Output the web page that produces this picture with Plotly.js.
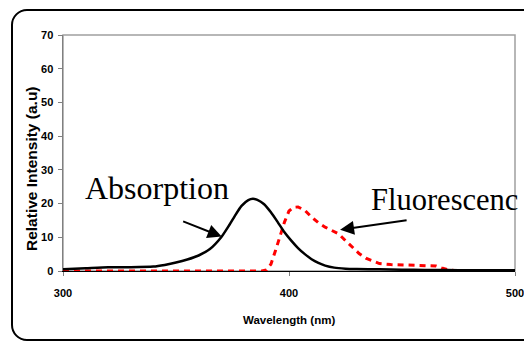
<!DOCTYPE html>
<html>
<head>
<meta charset="utf-8">
<script src="https://cdn.plot.ly/plotly-3.0.1.min.js"></script>
<style>
html,body{margin:0;padding:0;overflow:hidden;background:#fff;}
#wrap{position:relative;width:524px;height:341px;}
#chart{position:absolute;left:0;top:0;width:524px;height:341px;}
#frame{position:absolute;left:11px;top:9px;width:600px;height:328px;border:2px solid #000;border-radius:16px;pointer-events:none;}
</style>
</head>
<body>
<div id="wrap"><div id="chart"></div><div id="frame"></div></div>
<script>
// Absorption (black solid)
var absWl  = [300,310,320,330,340,345,350,355,360,365,370,373,376,379,382,384,386,389,392,395,398,401,404,407,410,413,416,420,425,430,440,450,460,470,480,490,500];
var absVal = [0.5,0.8,1.1,1.1,1.3,1.8,2.5,3.4,4.6,6.5,10,13,16.3,19.3,21,21.4,21.1,19.8,17.4,14.5,11.5,9,6.8,5,3.5,2.4,1.6,1.0,0.7,0.6,0.5,0.4,0.3,0.3,0.2,0.2,0.2];
// Fluorescence (red dashed)
var flWl  = [300,320,340,360,380,388,390,392,394,396,398,400,402,404,407,410,413,416,419,422,425,428,431,434,437,440,445,450,455,460,465,468,471,474,480,490,500];
var flVal = [0,0,0,0,0,0,0.3,2,6,10.5,14.5,17.8,18.9,19,18,16,14.3,13,12,11,9,7,5.2,3.8,2.9,2.2,1.9,1.8,1.8,1.8,1.5,0.8,0.3,0.1,0,0,0];
var xTicks = [300,400,500];
var yTicks = [0,10,20,30,40,50,60,70];
var xTitle = "Wavelength (nm)";
var yTitle = "Relative Intensity (a.u)";
var absLabel = "Absorption";
var flLabel = "Fluorescenc";

var sans = "Liberation Sans, Arial, sans-serif";
var serif = "Liberation Serif, Times New Roman, serif";

var traces = [
  {x: flWl, y: flVal, type: "scatter", mode: "lines", line: {color: "#FF0000", width: 3, dash: "6px,5px"}, hoverinfo: "skip"},
  {x: absWl, y: absVal, type: "scatter", mode: "lines", line: {color: "#000000", width: 2.5, shape: "spline", smoothing: 0.6}, hoverinfo: "skip"}
];

var layout = {
  width: 524, height: 341,
  margin: {l: 63, r: 9, t: 35, b: 70, pad: 0},
  paper_bgcolor: "rgba(0,0,0,0)", plot_bgcolor: "#fff",
  showlegend: false,
  xaxis: {range: [300, 500], tickvals: xTicks, ticktext: xTicks.map(String), ticks: "outside", ticklen: 4, tickcolor: "#808080",
          showline: true, linecolor: "#000", linewidth: 1, showgrid: false, zeroline: false, ticklabelstandoff: 8,
          ticklabeloverflow: "allow",
          tickfont: {family: sans, size: 11, color: "#000", weight: "bold"}},
  yaxis: {range: [0, 70], tickvals: yTicks, ticktext: yTicks.map(String), ticks: "outside", ticklen: 4, tickcolor: "#808080",
          showline: true, linecolor: "#808080", linewidth: 1.5, showgrid: false, zeroline: false, ticklabelstandoff: 2,
          tickfont: {family: sans, size: 11, color: "#000", weight: "bold"}},
  shapes: [
    {type: "rect", xref: "paper", yref: "paper", x0: 0, x1: 1, y0: 0, y1: 1, line: {color: "#A0A0A0", width: 1.5}, layer: "below"}
  ],
  annotations: [
    {xref: "paper", yref: "paper", x: (31-63)/452, y: (271-169)/236, text: yTitle, textangle: -90, showarrow: false,
     xanchor: "center", yanchor: "middle", font: {family: sans, size: 15.5, color: "#000", weight: "bold"}},
    {xref: "paper", yref: "paper", x: (289-63)/452, y: (271-320)/236, text: xTitle, showarrow: false,
     xanchor: "center", yanchor: "middle", font: {family: sans, size: 11.5, color: "#000", weight: "bold"}},
    {xref: "x", yref: "y", x: 341.5, y: 24.6, text: absLabel, showarrow: false, xanchor: "center", yanchor: "middle",
     font: {family: serif, size: 32, color: "#000"}},
    {xref: "x", yref: "y", x: 435.4, y: 21.1, text: flLabel, showarrow: false, xanchor: "left", yanchor: "middle",
     font: {family: serif, size: 30.5, color: "#000"}},
    {xref: "x", yref: "y", x: 370.2, y: 10.2, axref: "x", ayref: "y", ax: 352.5, ay: 14.9, text: "", showarrow: true,
     arrowhead: 2, arrowsize: 1.4, arrowwidth: 2, arrowcolor: "#000", standoff: 0, startstandoff: 0},
    {xref: "x", yref: "y", x: 422.6, y: 12.2, axref: "x", ayref: "y", ax: 452.7, ay: 15.1, text: "", showarrow: true,
     arrowhead: 2, arrowsize: 1.4, arrowwidth: 2, arrowcolor: "#000", standoff: 0, startstandoff: 0}
  ]
};

Plotly.newPlot("chart", traces, layout, {staticPlot: true, displayModeBar: false});
</script>
</body>
</html>
